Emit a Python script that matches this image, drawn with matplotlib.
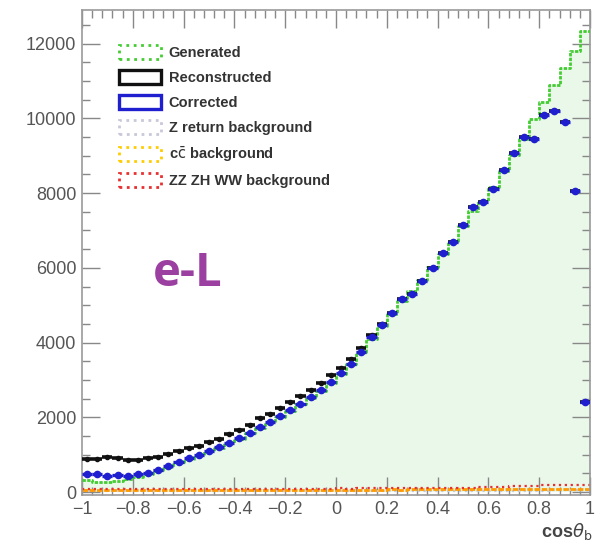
import matplotlib
matplotlib.use("Agg")
import matplotlib.pyplot as plt
from matplotlib.patches import Patch
from matplotlib.ticker import MultipleLocator
import numpy as np

# 50 bins in cos(theta_b) from -1 to 1
bin_edges = np.linspace(-1.0, 1.0, 51)
bin_centers = 0.5 * (bin_edges[:-1] + bin_edges[1:])

generated = [320, 280, 260, 290, 340, 410, 490, 580, 680, 790,
             890, 990, 1090, 1190, 1300, 1430, 1570, 1720, 1870, 2020,
             2180, 2350, 2520, 2710, 2930, 3170, 3430, 3740, 4100, 4430,
             4770, 5100, 5370, 5680, 6010, 6380, 6720, 7120, 7520, 7790,
             8150, 8600, 9030, 9460, 9980, 10450, 10900, 11350, 11800, 12330]

reconstructed = [880, 890, 930, 900, 860, 860, 900, 950, 1020, 1100,
                 1170, 1240, 1330, 1420, 1540, 1660, 1800, 1970, 2100, 2250,
                 2400, 2560, 2740, 2920, 3130, 3330, 3560, 3850, 4200, 4500,
                 4790, 5160, 5300, 5650, 6000, 6390, 6700, 7150, 7630, 7760,
                 8110, 8620, 9070, 9500, 9450, 10090, 10200, 9900, 8060, 2410]

corrected = [480, 470, 440, 450, 440, 470, 520, 600, 700, 800,
             900, 1000, 1100, 1200, 1310, 1440, 1580, 1740, 1880, 2030,
             2190, 2360, 2530, 2720, 2940, 3180, 3430, 3750, 4150, 4470,
             4790, 5160, 5300, 5650, 6000, 6390, 6700, 7150, 7630, 7760,
             8110, 8620, 9070, 9500, 9450, 10090, 10200, 9900, 8060, 2410]

z_return_bkg = [30, 28, 32, 30, 29, 31, 30, 28, 30, 31,
                29, 30, 32, 30, 29, 31, 30, 30, 29, 31,
                30, 32, 30, 29, 31, 30, 30, 31, 29, 30,
                31, 30, 32, 30, 31, 30, 32, 33, 32, 34,
                35, 34, 36, 38, 37, 40, 42, 44, 45, 40]

cc_bkg = [60, 58, 62, 60, 59, 61, 63, 60, 62, 61,
          60, 63, 62, 61, 63, 62, 64, 63, 62, 64,
          63, 65, 64, 63, 66, 65, 64, 66, 67, 66,
          68, 67, 69, 68, 70, 69, 71, 72, 73, 74,
          75, 76, 78, 80, 82, 84, 86, 88, 90, 85]

zz_zh_ww_bkg = [70, 72, 68, 74, 71, 75, 73, 76, 74, 78,
                76, 80, 78, 82, 80, 84, 82, 86, 84, 88,
                86, 90, 88, 92, 90, 94, 92, 96, 95, 98,
                97, 100, 99, 103, 102, 106, 108, 112, 118, 125,
                132, 140, 150, 158, 165, 175, 182, 190, 200, 180]

x_ticks = [-1, -0.8, -0.6, -0.4, -0.2, 0, 0.2, 0.4, 0.6, 0.8, 1]
x_ticklabels = ["\u22121", "\u22120.8", "\u22120.6", "\u22120.4", "\u22120.2",
                "0", "0.2", "0.4", "0.6", "0.8", "1"]
y_ticks = [0, 2000, 4000, 6000, 8000, 10000, 12000]

legend_labels = ["Generated", "Reconstructed", "Corrected",
                 "Z return background", r"c$\bar{\rm c}$ background",
                 "ZZ ZH WW background"]

plt.rcParams["font.family"] = ["Liberation Sans", "DejaVu Sans"]

fig = plt.figure(figsize=(6.01, 5.50), dpi=100)
ax = fig.add_axes([0.1364, 0.1, 0.8453, 0.8818])

def step_values(vals):
    v = np.asarray(vals, dtype=float)
    return np.append(v, v[-1])

# generated: filled histogram with dotted outline
ax.fill_between(bin_edges, step_values(generated), step="post",
                color="#e9f8e9", lw=0, zorder=1)
ax.step(bin_edges, step_values(generated), where="post",
        color="#44cc33", lw=2.0, ls=(0, (1.2, 0.5)), zorder=3)

# backgrounds
ax.step(bin_edges, step_values(z_return_bkg), where="post",
        color="#c8c8d8", lw=1.6, ls=":", zorder=2)
ax.step(bin_edges, step_values(cc_bkg), where="post",
        color="#ff9a00", lw=2.0, ls=(0, (2, 0.6)), zorder=2)
ax.step(bin_edges, step_values(zz_zh_ww_bkg), where="post",
        color="#e83030", lw=1.6, ls=":", zorder=2)

half_w = 0.5 * (bin_edges[1] - bin_edges[0])
ax.errorbar(bin_centers, reconstructed, xerr=half_w, fmt="o", ms=3,
            color="#111111", elinewidth=2.6, capsize=0, zorder=4)
ax.errorbar(bin_centers, corrected, xerr=half_w, fmt="o", ms=4.5,
            color="#1f1fd0", elinewidth=2.4, capsize=0, zorder=5)

ax.set_xlim(-1, 1)
ax.set_ylim(-80, 12900)
ax.set_xticks(x_ticks)
ax.set_xticklabels(x_ticklabels)
ax.set_yticks(y_ticks)
ax.xaxis.set_minor_locator(MultipleLocator(0.04))
ax.yaxis.set_minor_locator(MultipleLocator(500))

ax.tick_params(which="both", direction="in", top=True, right=True,
               colors="#888888", labelcolor="#555555", labelsize=13)
ax.tick_params(which="major", length=13, width=1)
ax.tick_params(which="minor", length=6, width=1)
ax.tick_params(axis="y", pad=4)
ax.tick_params(axis="x", pad=4)
for sp in ax.spines.values():
    sp.set_color("#999999")
    sp.set_linewidth(1.2)

fig.text(0.985, 0.015, r"cos$\theta_{\rm b}$", ha="right", va="bottom",
         fontsize=13, fontweight="bold", color="#444444")

ax.text(-0.72, 5850, "e-L", fontsize=34, fontweight="bold",
        color="#9b3fa0", family=["Open Sans", "DejaVu Sans"],
        ha="left", va="center")

handles = [
    Patch(facecolor="none", edgecolor="#44cc33", lw=2, ls=":"),
    Patch(facecolor="none", edgecolor="#111111", lw=2.4),
    Patch(facecolor="none", edgecolor="#1f1fd0", lw=2.4),
    Patch(facecolor="none", edgecolor="#c8c8d8", lw=2, ls=":"),
    Patch(facecolor="none", edgecolor="#ffcc00", lw=2, ls=":"),
    Patch(facecolor="none", edgecolor="#e83030", lw=2, ls=":"),
]
leg = ax.legend(handles, legend_labels, loc="upper left",
                bbox_to_anchor=(0.047, 0.955), frameon=False,
                fontsize=10.5, handlelength=2.9, handleheight=1.1,
                labelspacing=0.68, handletextpad=0.5)
for t in leg.get_texts():
    t.set_color("#333333")
    t.set_fontweight("bold")

fig.savefig("out.png", dpi=100)
